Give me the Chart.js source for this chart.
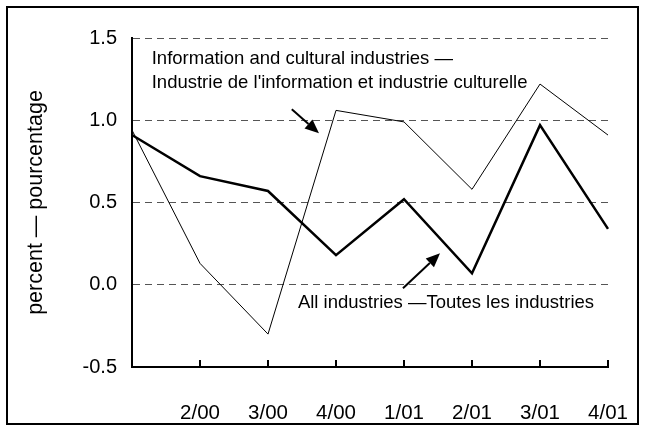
<!DOCTYPE html>
<html>
<head>
<meta charset="utf-8">
<script src="https://cdn.jsdelivr.net/npm/chart.js@4"></script>
<style>
  html, body { margin: 0; padding: 0; background: #fff; }
  canvas { display: block; }
</style>
</head>
<body>
<canvas id="chart" width="645" height="429"></canvas>
<script>
// quarters (first one is not labelled on the axis)
const quarters = ['1/00', '2/00', '3/00', '4/00', '1/01', '2/01', '3/01', '4/01'];
const infoCultural = [0.94, 0.13, -0.30, 1.06, 0.99, 0.58, 1.22, 0.91];
const allIndustries = [0.91, 0.66, 0.57, 0.18, 0.52, 0.07, 0.97, 0.34];
const yTicks = [-0.5, 0.0, 0.5, 1.0, 1.5];

const fontFamily = '"Liberation Sans", Arial, sans-serif';

// notes and arrows, placed in data units (category index, value)
const notes = [
    { x: 0.29, y: 1.371, text: 'Information and cultural industries —' },
    { x: 0.29, y: 1.225, text: "Industrie de l'information et industrie culturelle" },
    { x: 2.44, y: -0.112, text: 'All industries —Toutes les industries' }
];
const arrows = [
    { from: [2.35, 1.067], to: [2.75, 0.921] },
    { from: [3.985, -0.021], to: [4.53, 0.191] }
];

const extrasPlugin = {
    id: 'extras',
    afterDraw(chart) {
        const { ctx, scales: { x, y }, chartArea } = chart;
        ctx.save();

        // outer frame
        ctx.strokeStyle = '#000';
        ctx.lineWidth = 2;
        ctx.strokeRect(7, 7, 631, 417);

        // tick marks pointing up from the x axis
        ctx.lineWidth = 2;
        ctx.beginPath();
        for (let i = 1; i < quarters.length; i++) {
            const px = Math.round(x.getPixelForValue(i));
            ctx.moveTo(px, chartArea.bottom);
            ctx.lineTo(px, chartArea.bottom - 7);
        }
        ctx.stroke();

        // notes
        ctx.fillStyle = '#000';
        ctx.font = '18.5px ' + fontFamily;
        ctx.textBaseline = 'middle';
        ctx.textAlign = 'left';
        notes.forEach(n => {
            ctx.fillText(n.text, x.getPixelForValue(n.x), y.getPixelForValue(n.y));
        });

        // arrows
        arrows.forEach(a => {
            const x1 = x.getPixelForValue(a.from[0]), y1 = y.getPixelForValue(a.from[1]);
            const x2 = x.getPixelForValue(a.to[0]), y2 = y.getPixelForValue(a.to[1]);
            const ang = Math.atan2(y2 - y1, x2 - x1);
            const head = 14, half = 6;
            const bx = x2 - head * Math.cos(ang), by = y2 - head * Math.sin(ang);
            ctx.lineWidth = 2;
            ctx.beginPath();
            ctx.moveTo(x1, y1);
            ctx.lineTo(bx, by);
            ctx.stroke();
            ctx.beginPath();
            ctx.moveTo(x2, y2);
            ctx.lineTo(bx + half * Math.sin(ang), by - half * Math.cos(ang));
            ctx.lineTo(bx - half * Math.sin(ang), by + half * Math.cos(ang));
            ctx.closePath();
            ctx.fill();
        });

        ctx.restore();
    }
};

new Chart(document.getElementById('chart'), {
    type: 'line',
    data: {
        labels: quarters,
        datasets: [
            {
                label: 'Information and cultural industries',
                data: infoCultural,
                borderColor: '#000',
                borderWidth: 1,
                pointRadius: 0,
                tension: 0
            },
            {
                label: 'All industries',
                data: allIndustries,
                borderColor: '#000',
                borderWidth: 2.5,
                pointRadius: 0,
                tension: 0
            }
        ]
    },
    options: {
        responsive: false,
        animation: false,
        layout: { padding: { top: 38, right: 37, left: 0, bottom: 0 } },
        plugins: {
            legend: { display: false },
            tooltip: { enabled: false }
        },
        scales: {
            x: {
                offset: false,
                grid: { display: false },
                border: { display: true, color: '#000', width: 2 },
                ticks: {
                    color: '#000',
                    font: { family: fontFamily, size: 20.5 },
                    padding: 26,
                    maxRotation: 0,
                    autoSkip: false,
                    callback: (v, i) => i === 0 ? '' : quarters[i]
                },
                afterFit: s => {
                    s.height = 62;
                    s.paddingLeft = 0;
                    s.paddingRight = 0;
                }
            },
            y: {
                min: -0.5,
                max: 1.5,
                afterBuildTicks: s => { s.ticks = yTicks.map(v => ({ value: v })); },
                grid: {
                    drawTicks: false,
                    color: c => c.tick && c.tick.value === -0.5 ? 'rgba(0,0,0,0)' : '#555',
                    lineWidth: 1
                },
                border: { display: true, color: '#000', width: 2, dash: [7, 5] },
                ticks: {
                    color: '#000',
                    font: { family: fontFamily, size: 20 },
                    padding: 15,
                    callback: v => v.toFixed(1)
                },
                title: {
                    display: true,
                    text: 'percent — pourcentage',
                    color: '#000',
                    font: { family: fontFamily, size: 21.5 },
                    padding: { top: 23, bottom: 0 }
                },
                afterFit: s => {
                    s.width = 132;
                    s.paddingTop = 0;
                    s.paddingBottom = 0;
                }
            }
        }
    },
    plugins: [extrasPlugin]
});
</script>
</body>
</html>
